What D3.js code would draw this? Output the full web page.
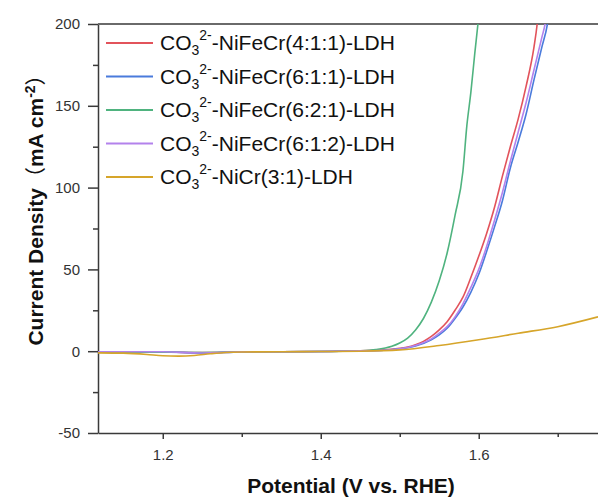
<!DOCTYPE html>
<html>
<head>
    <meta charset="utf-8">
    <title>LSV curves</title>
    <script src="https://d3js.org/d3.v7.min.js"></script>
    <style>
        body { margin: 0; background: #fff; }
        svg { display: block; font-family: "Liberation Sans", Arial, sans-serif; }
        .curve { fill: none; stroke-width: 1.6px; }
        .axis path, .axis line { stroke: #3a3a3a; stroke-width: 1.5px; }
        .axis text { fill: #333; font-size: 15px; font-family: "Liberation Sans", Arial, sans-serif; }
    </style>
</head>
<body>
<script>
    // series labels (formula parts) and colours
    var seriesNames = ["NiFeCr(4:1:1)", "NiFeCr(6:1:1)", "NiFeCr(6:2:1)", "NiFeCr(6:1:2)", "NiCr(3:1)"];
    var seriesColors = ["#e2535b", "#4a7bdc", "#4fb37f", "#b382ec", "#d6a52a"];

    // [potential V vs RHE, current density mA cm-2]
    var curve411 = [[1.118,-0.5],[1.2,-0.5],[1.25,-0.9],[1.3,-0.4],[1.4,-0.2],[1.45,0.3],[1.48,0.8],[1.5,1.8],[1.51,2.5],[1.52,4],[1.53,6],[1.54,9],[1.55,13],[1.56,18],[1.57,25],[1.58,33],[1.59,45],[1.6,58],[1.61,72],[1.62,88],[1.63,107],[1.64,125],[1.65,142],[1.66,162],[1.67,186],[1.674,200],[1.676,210]];
    var curve611 = [[1.118,-0.4],[1.2,-0.4],[1.25,-1.2],[1.3,-0.4],[1.4,-0.2],[1.45,0.2],[1.48,0.6],[1.5,1.4],[1.52,3.2],[1.54,7],[1.55,10],[1.56,14],[1.57,20],[1.58,27],[1.59,36],[1.6,47],[1.61,61],[1.62,76],[1.63,92],[1.64,112],[1.65,128],[1.66,145],[1.67,166],[1.68,186],[1.687,200],[1.69,210]];
    var curve621 = [[1.118,-0.5],[1.2,-0.6],[1.25,-0.8],[1.3,-0.4],[1.4,-0.2],[1.45,0.3],[1.47,1],[1.49,3],[1.5,5],[1.51,8],[1.52,13],[1.53,20],[1.54,30],[1.55,43],[1.56,60],[1.57,83],[1.58,110],[1.585,138],[1.59,158],[1.595,182],[1.599,200],[1.601,210]];
    var curve612 = [[1.118,-0.3],[1.2,-0.3],[1.25,-1.1],[1.3,-0.4],[1.4,-0.2],[1.45,0.2],[1.48,0.6],[1.5,1.5],[1.52,3.5],[1.54,7.5],[1.55,11],[1.56,15],[1.57,21],[1.58,29],[1.59,39],[1.6,50],[1.61,64],[1.62,80],[1.63,97],[1.64,116],[1.65,134],[1.66,152],[1.67,172],[1.68,192],[1.684,200],[1.687,210]];
    var curve31 = [[1.118,-1],[1.15,-1.2],[1.18,-2],[1.2,-2.8],[1.22,-3],[1.24,-2.6],[1.26,-1.6],[1.28,-0.8],[1.3,-0.5],[1.35,-0.3],[1.4,-0.2],[1.45,0],[1.5,0.8],[1.55,3.5],[1.6,7],[1.65,11],[1.7,15],[1.751,21]];
    var allCurves = [curve411, curve611, curve621, curve612, curve31];

    var xMajor = [1.2, 1.4, 1.6];
    var xMinor = [1.3, 1.5, 1.7];
    var yMajor = [-50, 0, 50, 100, 150, 200];
    var yMinor = [-25, 25, 75, 125, 175];

    var W = 598, H = 500;
    var mLeft = 98, mRight = 598, mTop = 24, mBottom = 433;

    var svg = d3.select("body").append("svg")
        .attr("width", W)
        .attr("height", H);

    var x = d3.scaleLinear().domain([1.118, 1.751]).range([mLeft, mRight]);
    var y = d3.scaleLinear().domain([-50, 200]).range([mBottom, mTop]);

    svg.append("clipPath").attr("id", "plot")
        .append("rect")
        .attr("x", mLeft).attr("y", mTop)
        .attr("width", mRight - mLeft).attr("height", mBottom - mTop);

    // minor ticks first, then the labelled axes on top
    svg.append("g").attr("class", "axis")
        .attr("transform", "translate(0," + mBottom + ")")
        .call(d3.axisBottom(x).tickValues(xMinor).tickSize(4).tickFormat(""))
        .select(".domain").remove();
    svg.append("g").attr("class", "axis")
        .attr("transform", "translate(" + mLeft + ",0)")
        .call(d3.axisLeft(y).tickValues(yMinor).tickSize(5).tickFormat(""))
        .select(".domain").remove();

    svg.append("g").attr("class", "axis")
        .attr("transform", "translate(0," + mBottom + ")")
        .call(d3.axisBottom(x).tickValues(xMajor).tickSize(6).tickSizeOuter(0).tickPadding(10).tickFormat(d3.format(".1f")));
    svg.append("g").attr("class", "axis")
        .attr("transform", "translate(" + mLeft + ",0)")
        .call(d3.axisLeft(y).tickValues(yMajor).tickSize(10).tickSizeOuter(0).tickPadding(8).tickFormat(d => String(d)));

    // top frame line
    svg.append("line")
        .attr("x1", mLeft).attr("x2", mRight)
        .attr("y1", mTop).attr("y2", mTop)
        .attr("stroke", "#6a6a6a").attr("stroke-width", 2);

    var line = d3.line()
        .x(d => x(d[0]))
        .y(d => y(d[1]))
        .curve(d3.curveMonotoneX);

    svg.append("g").attr("clip-path", "url(#plot)")
        .selectAll("path")
        .data(allCurves)
        .enter()
        .append("path")
        .attr("class", "curve")
        .attr("stroke", (d, i) => seriesColors[i])
        .attr("d", line);

    // legend
    var legend = svg.append("g").selectAll("g")
        .data(seriesNames)
        .enter()
        .append("g")
        .attr("transform", (d, i) => "translate(106," + (43 + i * 33.5) + ")");

    legend.append("line")
        .attr("x1", 0).attr("x2", 47)
        .attr("stroke", (d, i) => seriesColors[i])
        .attr("stroke-width", 1.8);

    var lt = legend.append("text")
        .attr("x", 54).attr("y", 7)
        .style("font-size", "21px")
        .attr("fill", "#111");
    lt.append("tspan").text("CO");
    lt.append("tspan").attr("dy", 5).style("font-size", "14px").text("3");
    lt.append("tspan").attr("dy", -15).style("font-size", "14px").text("2-");
    lt.append("tspan").attr("dy", 10).text(d => "-" + d + "-LDH");

    // axis titles
    svg.append("text")
        .attr("x", 351)
        .attr("y", 493)
        .attr("text-anchor", "middle")
        .style("font-size", "21px")
        .style("font-weight", "bold")
        .attr("fill", "#111")
        .text("Potential (V vs. RHE)");

    var yt = svg.append("text")
        .attr("transform", "translate(43,205) rotate(-90)")
        .attr("text-anchor", "middle")
        .style("font-size", "21px")
        .style("font-weight", "bold")
        .attr("fill", "#111");
    yt.append("tspan").text("Current Density");
    yt.append("tspan").style("font-family", "'Noto Sans CJK SC'").style("font-weight", "normal").text("（");
    yt.append("tspan").text("mA cm");
    yt.append("tspan").attr("dy", -8).style("font-size", "14px").text("-2");
    yt.append("tspan").attr("dy", 8).style("font-family", "'Noto Sans CJK SC'").style("font-weight", "normal").text("）");
</script>
</body>
</html>
